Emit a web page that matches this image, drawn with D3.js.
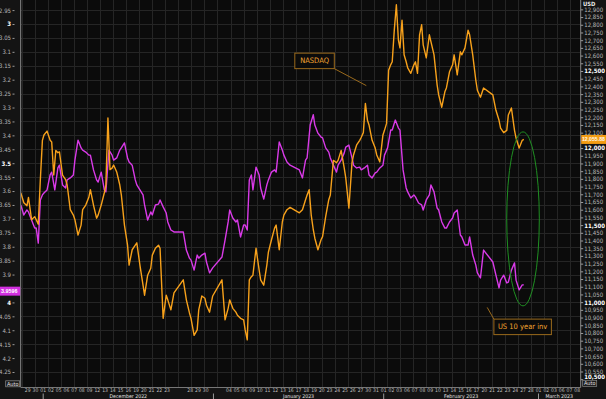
<!DOCTYPE html>
<html>
<head>
<meta charset="utf-8">
<script src="https://cdn.jsdelivr.net/npm/d3@7"></script>
<style>
  html, body { margin: 0; padding: 0; background: #141414; }
  svg { display: block; }
  text { font-family: "DejaVu Sans Condensed", "Liberation Sans Narrow", "Liberation Sans", sans-serif; }
  text.tag { font-family: "Liberation Sans", Arial, sans-serif; }
</style>
</head>
<body>
<svg id="chart" width="606" height="399"></svg>
<script>
// intraday samples per session: [day, v1, v2, ...]  (holidays have no row)
var ndx = [
  ["2022-11-28", 11710, 11645, 11625],
  ["2022-11-29", 11680, 11535, 11555],
  ["2022-11-30", 11535, 11505, 11795, 12050],
  ["2022-12-01", 12085, 12110, 12050],
  ["2022-12-02", 12040, 11825, 11985, 11970],
  ["2022-12-05", 11975, 11825, 11795],
  ["2022-12-06", 11760, 11600, 11565],
  ["2022-12-07", 11535, 11435, 11500],
  ["2022-12-08", 11600, 11630, 11680],
  ["2022-12-09", 11730, 11630, 11545],
  ["2022-12-12", 11565, 11630, 11710],
  ["2022-12-13", 11760, 12195, 11860, 11870],
  ["2022-12-14", 11890, 11845, 11760],
  ["2022-12-15", 11695, 11500, 11370],
  ["2022-12-16", 11240, 11340, 11370],
  ["2022-12-19", 11385, 11240, 11110],
  ["2022-12-20", 11045, 11175, 11220],
  ["2022-12-21", 11305, 11350, 11370],
  ["2022-12-22", 11350, 10895, 11045],
  ["2022-12-23", 11015, 10950, 11060],
  ["2022-12-27", 11145, 11015, 10930],
  ["2022-12-28", 10895, 10785, 10820],
  ["2022-12-29", 10950, 11040, 11025],
  ["2022-12-30", 10980, 10935, 11040],
  ["2023-01-03", 11145, 10885, 10960],
  ["2023-01-04", 11015, 10960, 10935],
  ["2023-01-05", 10915, 10895, 10885],
  ["2023-01-06", 10820, 10755, 11145, 11165],
  ["2023-01-09", 11175, 11350, 11210],
  ["2023-01-10", 11145, 11110, 11240],
  ["2023-01-11", 11325, 11405, 11480],
  ["2023-01-12", 11500, 11340, 11520],
  ["2023-01-13", 11565, 11600, 11615],
  ["2023-01-17", 11580, 11600, 11665],
  ["2023-01-18", 11695, 11730, 11565, 11470],
  ["2023-01-19", 11415, 11340, 11405],
  ["2023-01-20", 11425, 11555, 11665],
  ["2023-01-23", 11695, 11920, 11905],
  ["2023-01-24", 11920, 11985, 11870],
  ["2023-01-25", 11805, 11610, 11905],
  ["2023-01-26", 11955, 12020, 12050],
  ["2023-01-27", 12070, 12100, 12290, 12180],
  ["2023-01-30", 12150, 12050, 12000],
  ["2023-01-31", 11955, 11910, 12085],
  ["2023-02-01", 12115, 12160, 12505, 12540],
  ["2023-02-02", 12560, 12765, 12930, 12700],
  ["2023-02-03", 12650, 12830, 12605, 12560],
  ["2023-02-06", 12520, 12485, 12540],
  ["2023-02-07", 12560, 12485, 12735, 12800],
  ["2023-02-08", 12670, 12585, 12735],
  ["2023-02-09", 12690, 12605, 12410],
  ["2023-02-10", 12345, 12265, 12365],
  ["2023-02-13", 12390, 12495, 12540],
  ["2023-02-14", 12605, 12475, 12625],
  ["2023-02-15", 12605, 12650, 12765],
  ["2023-02-16", 12735, 12605, 12440],
  ["2023-02-17", 12375, 12330, 12390],
  ["2023-02-21", 12345, 12245, 12180],
  ["2023-02-22", 12130, 12100, 12115],
  ["2023-02-23", 12215, 12260, 12115],
  ["2023-02-24", 12065, 12000, 12050],
  ["2023-02-27", 12056]
];

var us10y = [
  ["2022-11-28", 3.650, 3.686, 3.668],
  ["2022-11-29", 3.675, 3.704, 3.733],
  ["2022-11-30", 3.733, 3.787, 3.632, 3.614],
  ["2022-12-01", 3.607, 3.596, 3.542],
  ["2022-12-02", 3.532, 3.596, 3.517],
  ["2022-12-05", 3.507, 3.578, 3.589],
  ["2022-12-06", 3.560, 3.553, 3.542],
  ["2022-12-07", 3.489, 3.417, 3.445],
  ["2022-12-08", 3.453, 3.460, 3.471],
  ["2022-12-09", 3.471, 3.524, 3.560],
  ["2022-12-12", 3.568, 3.532, 3.596],
  ["2022-12-13", 3.603, 3.453, 3.471],
  ["2022-12-14", 3.489, 3.481, 3.453],
  ["2022-12-15", 3.445, 3.427, 3.481],
  ["2022-12-16", 3.496, 3.507, 3.560],
  ["2022-12-19", 3.578, 3.596, 3.614],
  ["2022-12-20", 3.650, 3.704, 3.675],
  ["2022-12-21", 3.686, 3.650, 3.647],
  ["2022-12-22", 3.632, 3.657, 3.679],
  ["2022-12-23", 3.711, 3.740, 3.747],
  ["2022-12-27", 3.747, 3.812, 3.841],
  ["2022-12-28", 3.848, 3.884, 3.830],
  ["2022-12-29", 3.841, 3.830, 3.823],
  ["2022-12-30", 3.855, 3.894, 3.876],
  ["2023-01-03", 3.837, 3.776, 3.711],
  ["2023-01-04", 3.668, 3.697, 3.711],
  ["2023-01-05", 3.704, 3.765, 3.722],
  ["2023-01-06", 3.722, 3.740, 3.560, 3.542],
  ["2023-01-09", 3.596, 3.514, 3.542],
  ["2023-01-10", 3.589, 3.629, 3.578],
  ["2023-01-11", 3.560, 3.532, 3.524],
  ["2023-01-12", 3.532, 3.424, 3.453],
  ["2023-01-13", 3.471, 3.496, 3.507],
  ["2023-01-17", 3.524, 3.553, 3.489],
  ["2023-01-18", 3.481, 3.363, 3.326],
  ["2023-01-19", 3.363, 3.392, 3.406],
  ["2023-01-20", 3.409, 3.445, 3.460],
  ["2023-01-23", 3.481, 3.507, 3.532],
  ["2023-01-24", 3.507, 3.489, 3.463],
  ["2023-01-25", 3.442, 3.435, 3.481],
  ["2023-01-26", 3.507, 3.517, 3.514],
  ["2023-01-27", 3.524, 3.517, 3.507],
  ["2023-01-30", 3.542, 3.553, 3.535],
  ["2023-01-31", 3.532, 3.517, 3.507],
  ["2023-02-01", 3.471, 3.445, 3.381],
  ["2023-02-02", 3.381, 3.345, 3.374],
  ["2023-02-03", 3.381, 3.524, 3.589],
  ["2023-02-06", 3.603, 3.625, 3.614],
  ["2023-02-07", 3.621, 3.643, 3.650],
  ["2023-02-08", 3.668, 3.632, 3.614],
  ["2023-02-09", 3.578, 3.603, 3.661],
  ["2023-02-10", 3.668, 3.711, 3.733],
  ["2023-02-13", 3.733, 3.711, 3.697],
  ["2023-02-14", 3.679, 3.668, 3.758],
  ["2023-02-15", 3.765, 3.794, 3.794],
  ["2023-02-16", 3.765, 3.830, 3.866],
  ["2023-02-17", 3.894, 3.912, 3.812],
  ["2023-02-21", 3.855, 3.902, 3.948],
  ["2023-02-22", 3.920, 3.902, 3.930],
  ["2023-02-23", 3.927, 3.884, 3.858],
  ["2023-02-24", 3.920, 3.955, 3.937],
  ["2023-02-27", 3.937]
];

var lastNdx = 12055.88;
var lastYield = 3.9596;

var yieldTicks = [2.95, 3, 3.05, 3.1, 3.15, 3.2, 3.25, 3.3, 3.35, 3.4, 3.45, 3.5, 3.55, 3.6,
  3.65, 3.7, 3.75, 3.8, 3.85, 3.9, 3.95, 4, 4.05, 4.1, 4.15, 4.2, 4.25];
var yieldMajor = [3, 3.5, 4];
var ndxTicks = d3.range(10500, 12901, 50);
var ndxMajor = [10500, 11000, 11500, 12000, 12500];

var months = [
  ["December 2022", "2022-12-01"],
  ["January 2023", "2023-01-02"],
  ["February 2023", "2023-02-01"],
  ["March 2023", "2023-03-01"]
];
var hiddenDayLabels = ["2022-11-28", "2022-12-26", "2022-12-27", "2023-01-02", "2023-01-03"];

var svg = d3.select("#chart");
var W = 606, H = 399;
var plot = { left: 21, right: 580.7, top: 0, bottom: 387.5 };

// weekday slots on the time axis
var fmt = d3.utcFormat("%Y-%m-%d");
var slots = d3.utcDay.range(new Date(Date.UTC(2022, 10, 28)), new Date(Date.UTC(2023, 2, 9)))
  .filter(function (d) { var w = d.getUTCDay(); return w !== 0 && w !== 6; });
var slotKeys = slots.map(fmt);
var slotIndex = new Map(slotKeys.map(function (k, i) { return [k, i]; }));

var x = d3.scaleLinear().domain([0, slots.length - 1]).range([19.96, 577.2]);
var yL = d3.scaleLinear().domain([3, 4.25]).range([24, 372]);
var yR = d3.scaleLinear().domain([10500, 12500]).range([379.2, 71]);

function points(rows) {
  var out = [];
  rows.forEach(function (r) {
    var vals = r.slice(1), n = vals.length, i0 = slotIndex.get(r[0]);
    vals.forEach(function (v, i) {
      var f = n > 1 ? 0.1 + 0.8 * i / (n - 1) : 0.1;
      out.push({ t: i0 + f, v: v });
    });
  });
  return out;
}

// backgrounds
svg.append("rect").attr("width", W).attr("height", H).attr("fill", "#141414");
svg.append("rect")
  .attr("x", plot.left).attr("y", plot.top)
  .attr("width", plot.right - plot.left).attr("height", plot.bottom - plot.top)
  .attr("fill", "#0b0b0b");

// grid
var grid = svg.append("g").attr("stroke", "#252525").attr("stroke-width", 1);
grid.selectAll("line.h").data(yieldTicks).enter().append("line")
  .attr("x1", plot.left).attr("x2", plot.right)
  .attr("y1", function (d) { return Math.round(yL(d)) + 0.5; })
  .attr("y2", function (d) { return Math.round(yL(d)) + 0.5; });
grid.selectAll("line.v").data(d3.range(21.7, plot.right, 13.05)).enter().append("line")
  .attr("y1", plot.top).attr("y2", plot.bottom)
  .attr("x1", function (d) { return Math.round(d) + 0.5; })
  .attr("x2", function (d) { return Math.round(d) + 0.5; });

svg.append("defs").append("clipPath").attr("id", "clip")
  .append("rect")
  .attr("x", plot.left).attr("y", plot.top)
  .attr("width", plot.right - plot.left).attr("height", plot.bottom - plot.top);

// series
var lineY = d3.line()
  .x(function (d) { return x(d.t); })
  .y(function (d) { return yL(d.v); });
var lineN = d3.line()
  .x(function (d) { return x(d.t); })
  .y(function (d) { return yR(d.v); });

var series = svg.append("g").attr("clip-path", "url(#clip)");
series.append("path")
  .datum(points(us10y))
  .attr("d", lineY)
  .attr("fill", "none")
  .attr("stroke", "#d93ae8")
  .attr("stroke-width", 1.4)
  .attr("stroke-linejoin", "round");
series.append("path")
  .datum(points(ndx))
  .attr("d", lineN)
  .attr("fill", "none")
  .attr("stroke", "#f7a11b")
  .attr("stroke-width", 1.4)
  .attr("stroke-linejoin", "round");

// ellipse highlight
var ell = { day: "2023-02-27", at: 3.70 };
svg.append("ellipse")
  .attr("cx", x(slotIndex.get(ell.day)))
  .attr("cy", yL(ell.at))
  .attr("rx", 16.3).attr("ry", 87)
  .attr("fill", "none")
  .attr("stroke", "#1f8f22")
  .attr("stroke-width", 1);

// annotations
function note(text, tx, ty, bx, by, bw, bh, lx, ly) {
  var g = svg.append("g");
  g.append("line")
    .attr("x1", tx).attr("y1", ty).attr("x2", lx).attr("y2", ly)
    .attr("stroke", "#9a6a1c").attr("stroke-width", 1);
  g.append("rect")
    .attr("x", bx).attr("y", by).attr("width", bw).attr("height", bh)
    .attr("fill", "#0b0b0b").attr("stroke", "#9a6a1c").attr("stroke-width", 1);
  g.append("text")
    .attr("x", bx + bw / 2).attr("y", by + bh / 2 + 2.6)
    .attr("text-anchor", "middle")
    .attr("font-size", "7.5px")
    .attr("fill", "#f2a330")
    .text(text);
}
var nTipX = x(slotIndex.get("2023-01-30") - 0.25), nTipY = yR(12405);
note("NASDAQ", nTipX, nTipY, nTipX - 71.5, nTipY - 32.5, 39.5, 15.5, nTipX - 32, nTipY - 17);
var uTipX = x(slotIndex.get("2023-02-20") + 0.37), uTipY = yL(4.018);
note("US 10 year inv", uTipX, uTipY, uTipX + 6.7, uTipY + 11.7, 57.5, 15.5, uTipX + 6.7, uTipY + 11.7);

// frame lines
svg.append("line").attr("x1", plot.left - 0.3).attr("x2", plot.left - 0.3)
  .attr("y1", 0).attr("y2", plot.bottom).attr("stroke", "#8a8a8a").attr("stroke-width", 1);
svg.append("line").attr("x1", plot.right).attr("x2", plot.right)
  .attr("y1", 0).attr("y2", plot.bottom).attr("stroke", "#8a8a8a").attr("stroke-width", 1);
svg.append("line").attr("x1", plot.left).attr("x2", plot.right)
  .attr("y1", plot.bottom).attr("y2", plot.bottom).attr("stroke", "#777").attr("stroke-width", 1);

// left axis (inverted yield); the tick under the last-value tag is not labelled
var axL = svg.append("g")
  .attr("transform", "translate(14.5,0)")
  .call(d3.axisLeft(yL).tickValues(yieldTicks).tickSize(2).tickPadding(1.5).tickFormat(d3.format("~g")));
axL.select(".domain").remove();
axL.selectAll(".tick line").attr("stroke", "#9a9a9a");
axL.selectAll(".tick text")
  .attr("font-size", "6px")
  .attr("font-family", null)
  .attr("fill", function (d) { return yieldMajor.indexOf(d) >= 0 ? "#ffffff" : "#b8b8b8"; })
  .attr("font-weight", function (d) { return yieldMajor.indexOf(d) >= 0 ? "bold" : "normal"; });
axL.selectAll(".tick text")
  .filter(function (d) { return Math.abs(yL(d) - yL(lastYield)) < 6; })
  .remove();

// right axis
var axR = svg.append("g")
  .attr("transform", "translate(" + plot.right + ",0)")
  .call(d3.axisRight(yR).tickValues(ndxTicks).tickSize(2.5).tickPadding(1).tickFormat(d3.format(",")));
axR.select(".domain").remove();
axR.selectAll(".tick line").attr("stroke", "#9a9a9a");
axR.selectAll(".tick text")
  .attr("font-size", "6px")
  .attr("font-family", null)
  .attr("fill", function (d) { return ndxMajor.indexOf(d) >= 0 ? "#ffffff" : "#b8b8b8"; })
  .attr("font-weight", function (d) { return ndxMajor.indexOf(d) >= 0 ? "bold" : "normal"; })
  .attr("dy", function (d) { return d === 10500 ? "-0.05em" : "0.32em"; });
axR.selectAll(".tick text")
  .filter(function (d) { return Math.abs(yR(d) - yR(lastNdx)) < 5; })
  .remove();

svg.append("text").attr("x", 583).attr("y", 5.5)
  .attr("font-size", "5.8px").attr("font-weight", "bold").attr("fill", "#e8e8e8").text("USD");

// last value tags
svg.append("rect").attr("x", plot.right + 0.5).attr("y", yR(lastNdx) - 4.5)
  .attr("width", W - plot.right).attr("height", 9).attr("fill", "#f39c12");
svg.append("text").attr("class", "tag")
  .attr("x", plot.right + 1.2).attr("y", yR(lastNdx) + 2)
  .attr("font-size", "5.2px").attr("font-weight", "bold").attr("fill", "#fff6e6")
  .text(d3.format(",.2f")(lastNdx));
svg.append("rect").attr("x", 0).attr("y", yL(lastYield) - 4.5)
  .attr("width", plot.left - 0.8).attr("height", 9).attr("fill", "#d22fe0");
svg.append("text").attr("class", "tag")
  .attr("x", 1).attr("y", yL(lastYield) + 2)
  .attr("font-size", "5.4px").attr("font-weight", "bold").attr("fill", "#ffffff")
  .text(d3.format(".4f")(lastYield));

// Auto buttons
[[5.7, 380.8], [582.7, 380.3]].forEach(function (p) {
  svg.append("rect").attr("x", p[0]).attr("y", p[1]).attr("width", 14).attr("height", 6)
    .attr("fill", "#1c1c1c").attr("stroke", "#8c8c8c").attr("stroke-width", 0.7);
  svg.append("text").attr("x", p[0] + 7).attr("y", p[1] + 5)
    .attr("text-anchor", "middle").attr("font-size", "5.5px").attr("fill", "#e0e0e0").text("Auto");
});

// day labels
var dayLabels = slotKeys.filter(function (k) { return hiddenDayLabels.indexOf(k) < 0; });
svg.append("g").selectAll("text").data(dayLabels).enter().append("text")
  .attr("x", function (k) { return x(slotIndex.get(k)); })
  .attr("y", 391.7)
  .attr("text-anchor", "middle")
  .attr("font-size", "5px")
  .attr("fill", "#bdbdbd")
  .text(function (k) { return k.slice(8); });

// months
var endT = slots.length - 1 + 0.35;
months.forEach(function (m, i) {
  var t0 = slotIndex.get(m[1]);
  var t1 = i + 1 < months.length ? slotIndex.get(months[i + 1][1]) : endT;
  svg.append("line")
    .attr("x1", x(t0)).attr("x2", x(t0))
    .attr("y1", 393.5).attr("y2", 399)
    .attr("stroke", "#9a9a9a").attr("stroke-width", 1);
  svg.append("text")
    .attr("x", (x(t0) + x(t1)) / 2)
    .attr("y", 397.6)
    .attr("text-anchor", "middle")
    .attr("font-size", "5.2px")
    .attr("fill", "#e4e4e4")
    .text(m[0]);
});
</script>
</body>
</html>
